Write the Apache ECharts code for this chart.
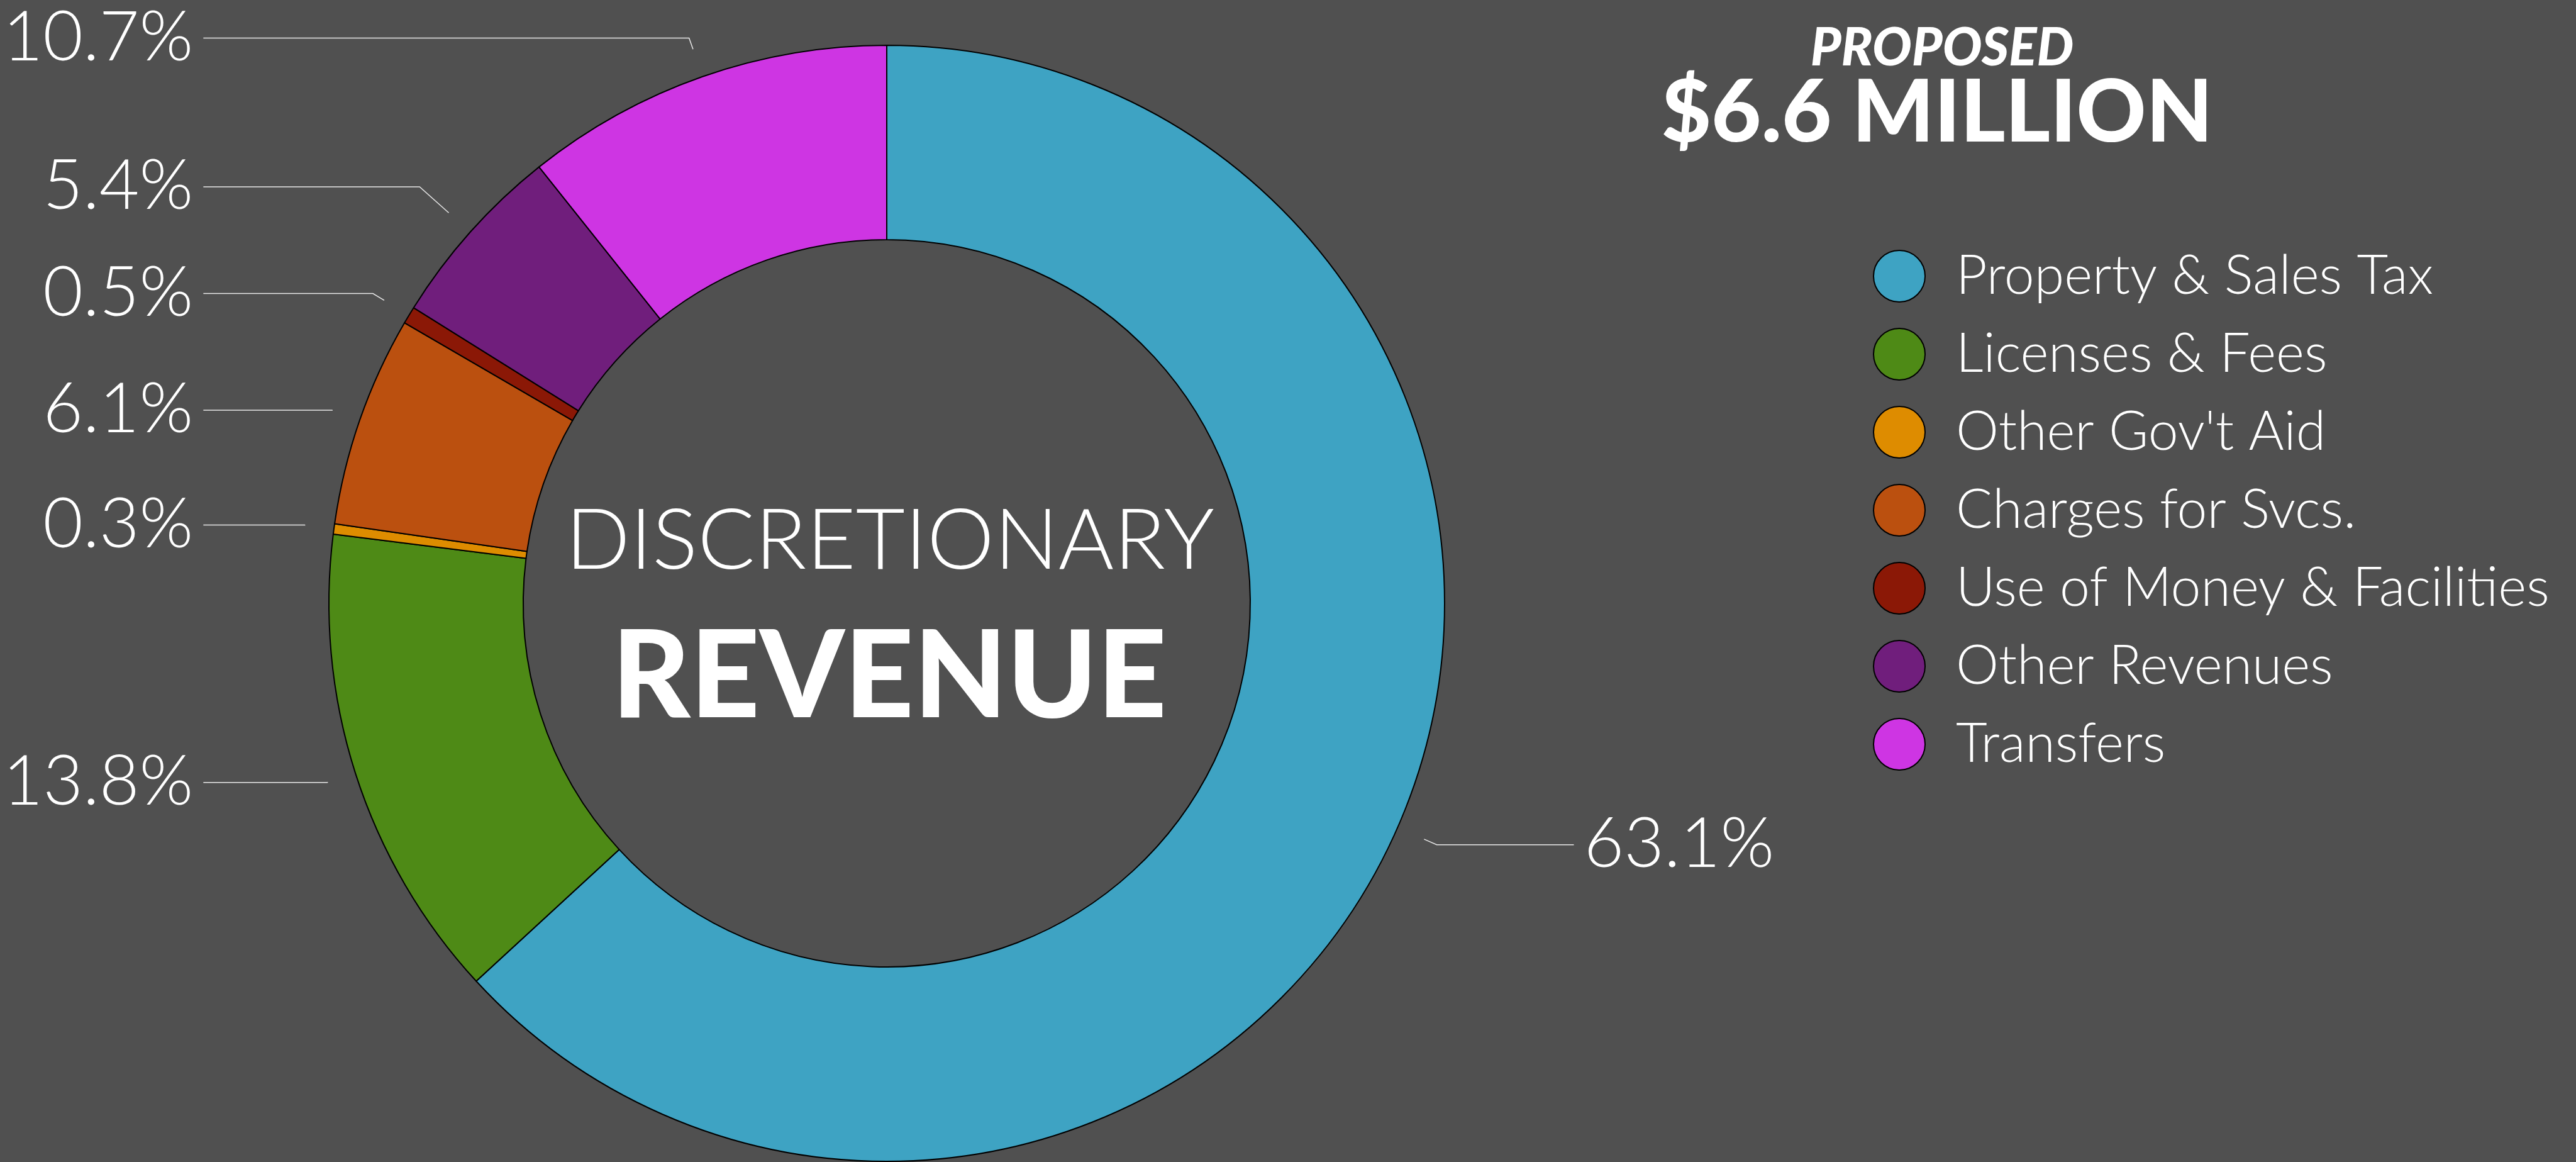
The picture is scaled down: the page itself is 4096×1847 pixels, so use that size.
<!DOCTYPE html>
<html>
<head>
<meta charset="utf-8">
<title>Discretionary Revenue</title>
<script src="https://cdn.jsdelivr.net/npm/echarts@6/dist/echarts.min.js"></script>
<style>
  html, body { margin: 0; padding: 0; background: #505050; }
  #chart { width: 4096px; height: 1847px; }
</style>
</head>
<body>
<div id="chart"></div>
<script>
// proposed discretionary revenue, share of $6.6 million
const categories = ['Property & Sales Tax', 'Licenses & Fees', "Other Gov't Aid", 'Charges for Svcs.', 'Use of Money & Facilities', 'Other Revenues', 'Transfers']
const shares = [63.1, 13.8, 0.3, 6.1, 0.5, 5.4, 10.7]
const colors = ['#3ea3c3', '#4e8a16', '#de8c00', '#bb500f', '#8b1806', '#701e7c', '#ce35e3']

// first leg of each leader line
const leaderLen = [22, 1, 1, 1, 21, 62, 19]

const font = 'Lato, "Noto Sans", sans-serif'
const center = [1410, 959]

const chart = echarts.init(document.getElementById('chart'))

chart.setOption({
  backgroundColor: '#505050',
  animation: false,
  legend: {
    orient: 'vertical',
    left: 2973,
    top: 391,
    icon: 'circle',
    itemWidth: 82,
    itemHeight: 82,
    itemGap: 38,
    selectedMode: false,
    data: categories,
    itemStyle: { borderColor: '#000', borderWidth: 2 },
    textStyle: {
      color: '#fff',
      fontFamily: font,
      fontWeight: 300,
      fontSize: 86,
      lineHeight: 80,
      padding: [0, 0, 0, 44]
    }
  },
  graphic: [
    { type: 'text', x: 3088, y: 77, style: { text: 'PROPOSED', fill: '#fff', font: 'italic 900 83px ' + font, textAlign: 'center', textVerticalAlign: 'middle' } },
    { type: 'text', x: 3080, y: 181, style: { text: '$6.6 MILLION', fill: '#fff', font: '900 137px ' + font, textAlign: 'center', textVerticalAlign: 'middle' } },
    { type: 'text', x: 1415, y: 860, z: 10, style: { text: 'DISCRETIONARY', fill: '#fff', font: '300 135px ' + font, textAlign: 'center', textVerticalAlign: 'middle' } },
    { type: 'text', x: 1414, y: 1078, z: 10, style: { text: 'REVENUE', fill: '#fff', font: '900 192px ' + font, textAlign: 'center', textVerticalAlign: 'middle' } }
  ],
  series: [
    {
      name: 'Revenue',
      type: 'pie',
      center: center,
      radius: [578, 887],
      startAngle: 90,
      silent: true,
      label: { show: false },
      labelLine: { show: false },
      itemStyle: { borderColor: '#000', borderWidth: 2 },
      data: categories.map((name, i) => ({
        name: name,
        value: shares[i],
        itemStyle: { color: colors[i] }
      }))
    },
    {
      // transparent ring, slightly wider, only carries the leader lines and labels
      name: 'labels',
      type: 'pie',
      center: center,
      radius: [578, 933],
      startAngle: 90,
      silent: true,
      avoidLabelOverlap: true,
      itemStyle: { color: 'rgba(0,0,0,0)', borderWidth: 0 },
      label: {
        position: 'outer',
        alignTo: 'labelLine',
        distanceToLabelLine: 16,
        bleedMargin: 0,
        formatter: '{c}%',
        color: '#fff',
        fontFamily: font,
        fontWeight: 300,
        fontSize: 110,
        lineHeight: 100,
        width: 420,
        overflow: 'none'
      },
      labelLine: {
        show: true,
        length: 21,
        length2: 161,
        lineStyle: { color: '#e8e8e8', width: 1.5 }
      },
      data: categories.map((name, i) => ({
        name: name,
        value: shares[i],
        labelLine: { length: leaderLen[i], length2: i === 0 ? 218 : 161 }
      }))
    }
  ]
})
</script>
</body>
</html>
